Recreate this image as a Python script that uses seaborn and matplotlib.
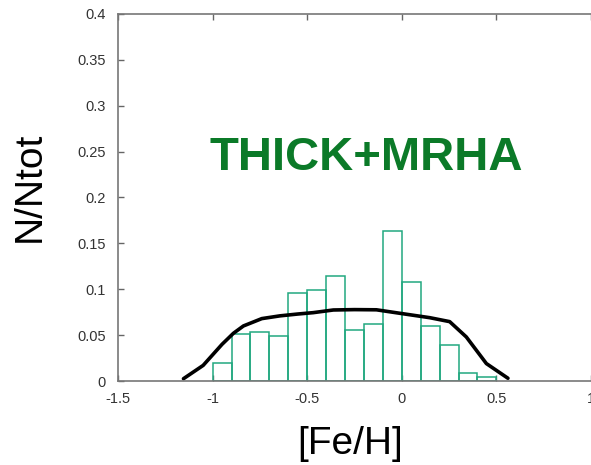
import numpy as np
import pandas as pd
import matplotlib
matplotlib.use("Agg")
import matplotlib.pyplot as plt
import seaborn as sns

# Histogram data (bin edges 0.1 wide from -1.0 to 0.5)
bin_edges = [-1.0, -0.9, -0.8, -0.7, -0.6, -0.5, -0.4, -0.3, -0.2, -0.1,
             0.0, 0.1, 0.2, 0.3, 0.4, 0.5]
bar_heights = [0.020, 0.051, 0.053, 0.049, 0.096, 0.099, 0.114, 0.056,
               0.062, 0.164, 0.108, 0.060, 0.039, 0.009, 0.004]

# Model curve
curve_x = [-1.154, -1.05, -0.95, -0.89, -0.837, -0.74, -0.644, -0.55, -0.468,
           -0.362, -0.25, -0.134, -0.01, 0.148, 0.253, 0.341, 0.447, 0.561]
curve_y = [0.0025, 0.017, 0.040, 0.052, 0.060, 0.068, 0.071, 0.073, 0.0745,
           0.0774, 0.0778, 0.0776, 0.0738, 0.069, 0.0647, 0.048, 0.019, 0.003]

x_ticks = [-1.5, -1, -0.5, 0, 0.5, 1]
x_ticklabels = ["-1.5", "-1", "-0.5", "0", "0.5", "1"]
y_ticks = [0, 0.05, 0.1, 0.15, 0.2, 0.25, 0.3, 0.35, 0.4]
y_ticklabels = ["0", "0.05", "0.1", "0.15", "0.2", "0.25", "0.3", "0.35", "0.4"]

sns.set_theme(style="white")
plt.rcParams['font.family'] = ['Liberation Sans', 'DejaVu Sans']

fig = plt.figure(figsize=(5.91, 4.65), dpi=100)
ax = fig.add_axes([118/591, 1-381/465, (591-118)/591, (381-14)/465])

centers = [(bin_edges[i] + bin_edges[i+1]) / 2 for i in range(len(bar_heights))]
df = pd.DataFrame({"feh": centers, "w": bar_heights})
sns.histplot(data=df, x="feh", weights="w", bins=bin_edges, fill=False,
             element="bars", color="#22a880", linewidth=1.1, ax=ax)

cdf = pd.DataFrame({"x": curve_x, "y": curve_y})
sns.lineplot(data=cdf, x="x", y="y", sort=False, color="black", linewidth=2.6, ax=ax)

ax.set_xlim(-1.5, 1.0)
ax.set_ylim(0, 0.4)
ax.set_xticks(x_ticks)
ax.set_xticklabels(x_ticklabels)
ax.set_yticks(y_ticks)
ax.set_yticklabels(y_ticklabels)
ax.tick_params(axis="both", direction="in", length=4, width=1, color="#666666",
               labelsize=10.5, labelcolor="#333333", top=True, right=False,
               bottom=True, left=True)
ax.tick_params(axis="x", pad=8)
ax.tick_params(axis="y", pad=9)
for s in ["left", "bottom", "top"]:
    ax.spines[s].set_color("#777777")
    ax.spines[s].set_linewidth(1.2)
ax.spines["right"].set_visible(False)

ax.set_xlabel("[Fe/H]", fontsize=28, color="black")
ax.set_ylabel("N/Ntot", fontsize=28, color="black")
ax.xaxis.set_label_coords(0.491, -0.122)
ax.yaxis.set_label_coords(-0.149, 0.53)

ax.text(-0.19, 0.243, "THICK+MRHA", fontsize=34, fontweight="bold",
        color="#0b7a28", ha="center", va="center")

fig.savefig("out.png", dpi=100)
